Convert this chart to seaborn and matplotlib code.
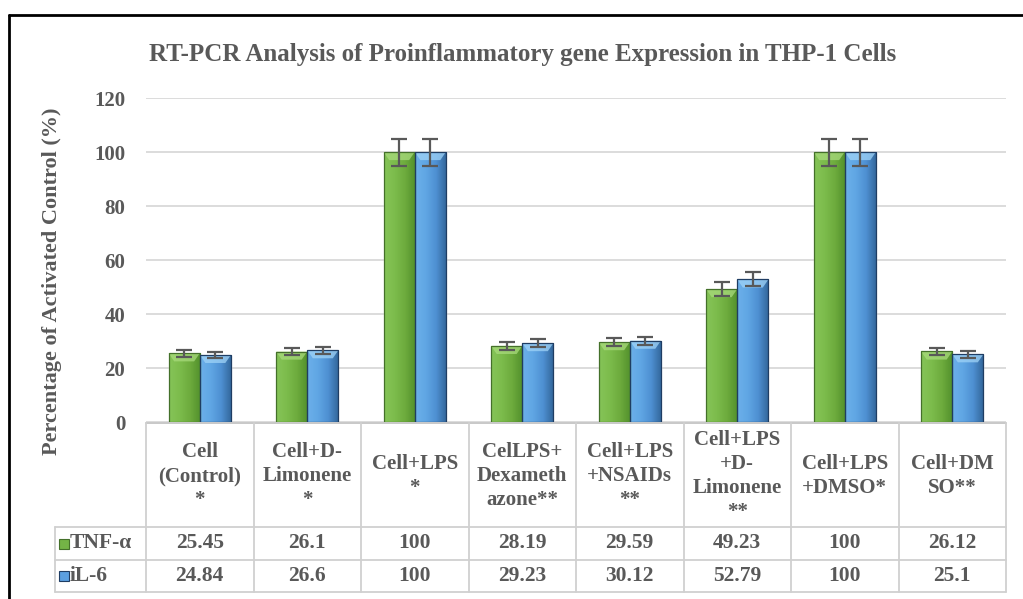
"""RT-PCR Barplot mit Datentabelle (Excel-Stil) nachgebaut."""

import matplotlib

matplotlib.use("Agg")

import matplotlib.pyplot as plt
import numpy as np
import pandas as pd
import seaborn as sns
from matplotlib.colors import LinearSegmentedColormap
from matplotlib.patches import Polygon, Rectangle

categories = [
    "Cell\n(Control)\n*",
    "Cell+D-\nLimonene\n*",
    "Cell+LPS\n*",
    "CelLPS+\nDexameth\nazone**",
    "Cell+LPS\n+NSAIDs\n**",
    "Cell+LPS\n+D-\nLimonene\n**",
    "Cell+LPS\n+DMSO*",
    "Cell+DM\nSO**",
]
series_names = ["TNF-α", "iL-6"]
tnf_values = [25.45, 26.1, 100, 28.19, 29.59, 49.23, 100, 26.12]
il6_values = [24.84, 26.6, 100, 29.23, 30.12, 52.79, 100, 25.1]
tnf_errors = [1.3, 1.3, 5.0, 1.4, 1.5, 2.5, 5.0, 1.3]
il6_errors = [1.2, 1.3, 5.0, 1.5, 1.5, 2.6, 5.0, 1.3]
value_labels = [
    ["25.45", "26.1", "100", "28.19", "29.59", "49.23", "100", "26.12"],
    ["24.84", "26.6", "100", "29.23", "30.12", "52.79", "100", "25.1"],
]
y_ticks = [0, 20, 40, 60, 80, 100, 120]

TEXT = "#595959"
GRID = "#d9d9d9"
TABLE_LINE = "#d0d0d0"
BASE_COLORS = ["#74b446", "#5b9fe0"]
GRADIENTS = [
    ["#86c458", "#7cbc4c", "#6dab3d", "#52902c"],
    ["#6cb0ea", "#60a6e4", "#4e90d2", "#326599"],
]
EDGES = ["#44702a", "#1f3d63"]
TOPS = ["#a8da7c", "#9fd3f7"]

W, H = 1023, 599

sns.set_style("white")
plt.rcParams["font.family"] = ["Liberation Serif", "DejaVu Serif"]
plt.rcParams["font.weight"] = "bold"

fig = plt.figure(figsize=(W / 100, H / 100), dpi=100)
ax = fig.add_axes([146 / W, (H - 422) / H, (1006 - 146) / W, (422 - 98) / H], zorder=2)
ax.patch.set_alpha(0)

df = pd.DataFrame(
    {
        "category": categories * 2,
        "series": [series_names[0]] * len(categories) + [series_names[1]] * len(categories),
        "value": tnf_values + il6_values,
    }
)
sns.barplot(
    data=df, x="category", y="value", hue="series", palette=BASE_COLORS,
    width=0.58, errorbar=None, saturation=1, legend=False, ax=ax,
)

# Verlauf + Kanten + helle Fase oben wie im Excel-Stil
for k, (container, errs) in enumerate(zip(ax.containers, [tnf_errors, il6_errors])):
    cmap = LinearSegmentedColormap.from_list(f"g{k}", GRADIENTS[k])
    xs, ys = [], []
    for p, err in zip(container.patches, errs):
        x0, w, h = p.get_x(), p.get_width(), p.get_height()
        im = ax.imshow(
            np.linspace(0, 1, 64).reshape(1, -1), extent=[x0, x0 + w, 0, h],
            aspect="auto", cmap=cmap, origin="lower", zorder=2.1,
        )
        im.set_clip_path(p)
        bevel = min(3.0, h * 0.12)
        ax.add_patch(Polygon(
            [(x0, h), (x0 + w, h), (x0 + w * 0.82, h - bevel), (x0 + w * 0.18, h - bevel)],
            closed=True, facecolor=TOPS[k], edgecolor="none", alpha=0.75, zorder=2.2,
        ))
        ax.add_patch(Rectangle((x0, 0), w, h, fill=False, edgecolor=EDGES[k], linewidth=0.9, zorder=2.3))
        xs.append(x0 + w / 2)
        ys.append(h)
    ax.errorbar(xs, ys, yerr=errs, fmt="none", ecolor=TEXT, elinewidth=1.6,
                capsize=6, capthick=1.6, zorder=3)

ax.set_xlim(-0.5, len(categories) - 0.5)
ax.set_ylim(0, 120)
ax.set_yticks(y_ticks)
ax.set_xticks([])
ax.set_xlabel("")
ax.yaxis.grid(True, color=GRID, linewidth=1.3)
ax.set_axisbelow(True)
for spine in ax.spines.values():
    spine.set_visible(False)
ax.tick_params(axis="y", length=0, pad=15, labelsize=15, labelcolor=TEXT)
for lab in ax.get_yticklabels():
    lab.set_fontweight("bold")
ax.set_ylabel("Percentage of Activated Control (%)", fontsize=16, fontweight="bold", color=TEXT)
ax.yaxis.set_label_coords((62 - 146) / 860, (422 - 281) / 324)

# Datentabelle unter dem Diagramm, in Pixelkoordinaten
tab = fig.add_axes([0, 0, 1, 1], zorder=1)
tab.set_xlim(0, W)
tab.set_ylim(H, 0)
tab.axis("off")

edges = [ax.transData.transform((i - 0.5, 0))[0] for i in range(len(categories) + 1)]
centers = [(a + b) / 2 for a, b in zip(edges[:-1], edges[1:])]
y_top, y_head, y_row1, y_row2 = 423, 527, 560, 592
x_lab = 55

tab.plot([edges[0], edges[-1]], [y_top, y_top], color="#c8c8c8", lw=1.4)
for yy in (y_head, y_row1, y_row2):
    tab.plot([x_lab, edges[-1]], [yy, yy], color=TABLE_LINE, lw=1.3)
for xx in edges:
    tab.plot([xx, xx], [y_top, y_row2], color=TABLE_LINE, lw=1.3)
tab.plot([x_lab, x_lab], [y_head, y_row2], color=TABLE_LINE, lw=1.3)

for cx, label in zip(centers, categories):
    tab.text(cx, (y_top + y_head) / 2 + 1, label, ha="center", va="center", fontsize=15,
             fontweight="bold", color=TEXT, linespacing=1.25)

row_mids = [(y_head + y_row1) / 2, (y_row1 + y_row2) / 2]
for r, (name, labels) in enumerate(zip(series_names, value_labels)):
    ym = row_mids[r]
    tab.add_patch(Rectangle((59, ym - 5), 10, 10, facecolor=BASE_COLORS[r], edgecolor=EDGES[r], lw=0.8))
    tab.text(70, ym, name, ha="left", va="center", fontsize=15.5, fontweight="bold", color=TEXT)
    for cx, txt in zip(centers, labels):
        tab.text(cx, ym, txt, ha="center", va="center", fontsize=15.5, fontweight="bold", color=TEXT)

# Titel und Rahmen
tab.text(523, 55, "RT-PCR Analysis of Proinflammatory gene Expression in THP-1 Cells",
         ha="center", va="center", fontsize=18, fontweight="bold", color=TEXT)
tab.plot([9, 9], [15, H], color="black", lw=2)
tab.plot([9, W], [15, 15], color="black", lw=2)

fig.savefig("out.png", dpi=100)
plt.close(fig)
